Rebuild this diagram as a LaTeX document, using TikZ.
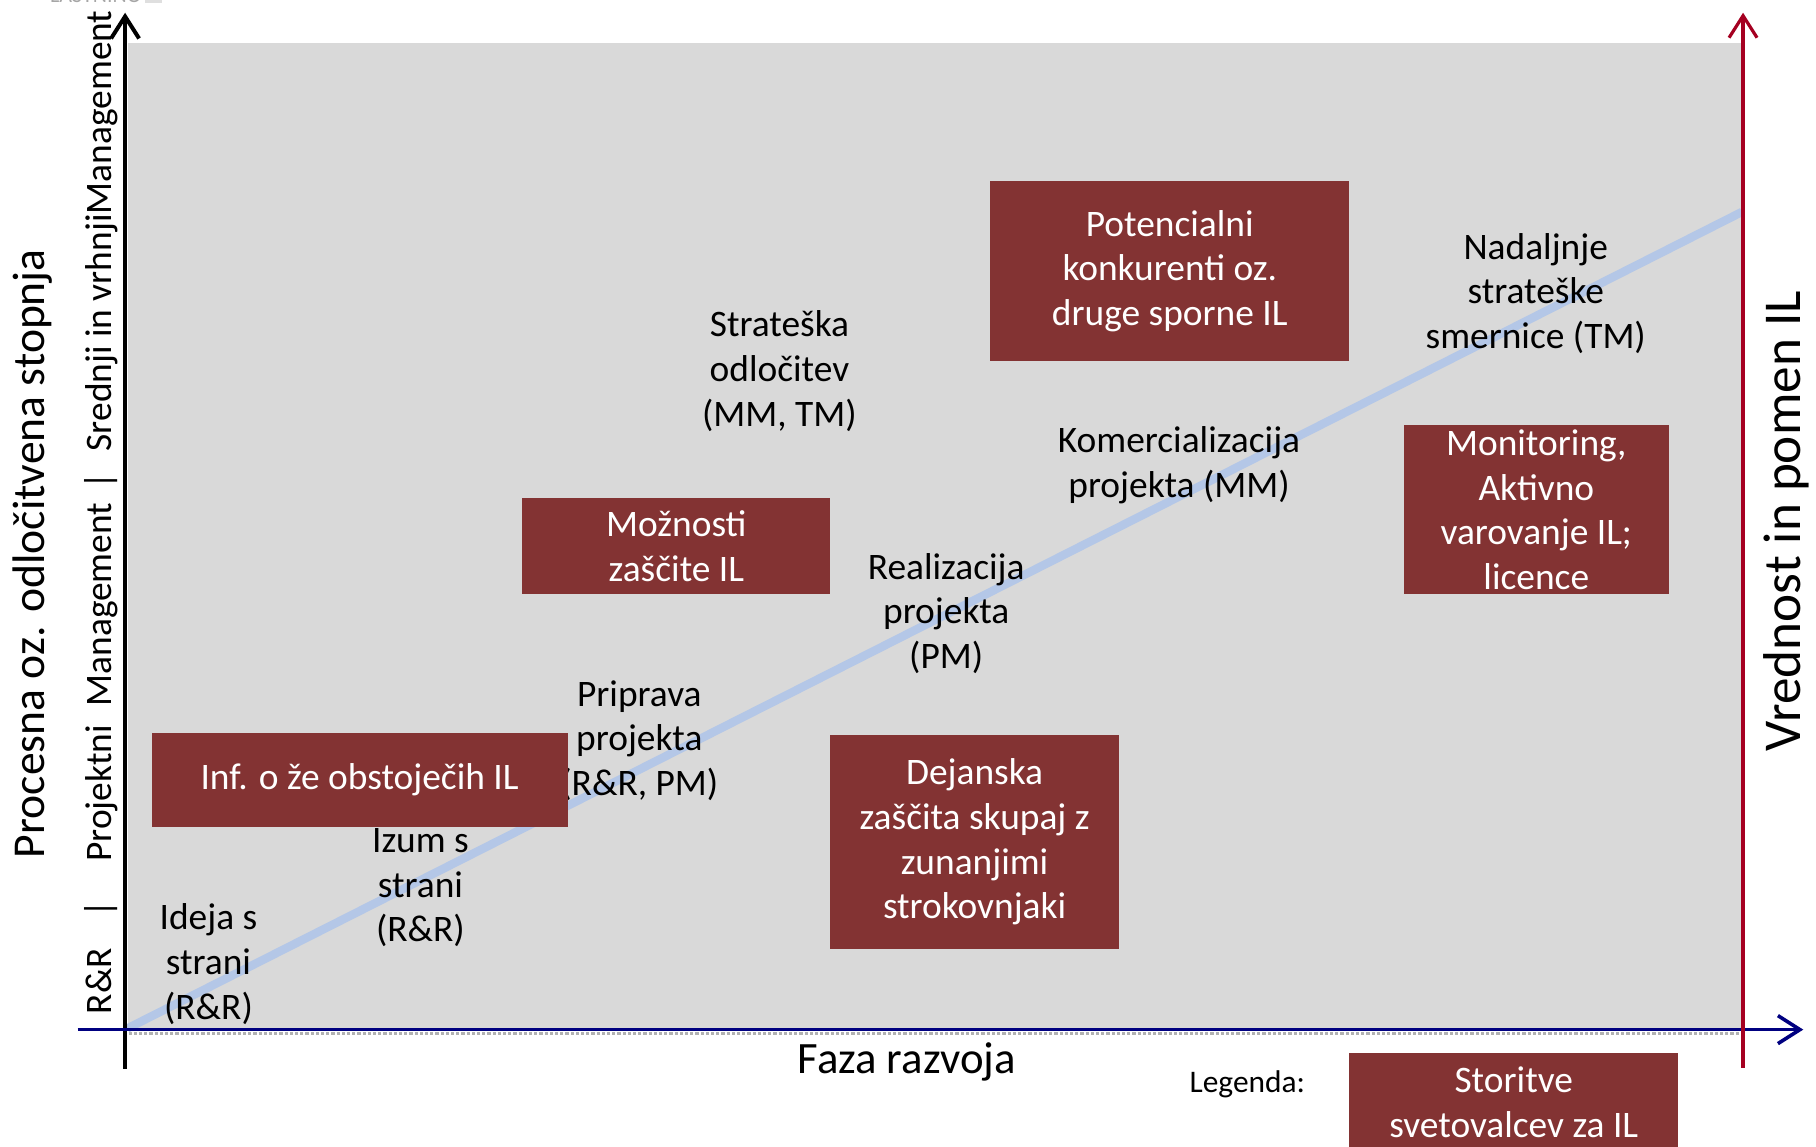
\documentclass[tikz,border=0pt]{standalone}
\usepackage{fontspec}
\setmainfont{Carlito}
\usetikzlibrary{arrows.meta}
\definecolor{boxred}{RGB}{131,51,51}
\definecolor{bggray}{RGB}{217,217,217}
\definecolor{axisblue}{RGB}{0,0,128}
\definecolor{axisred}{RGB}{165,0,33}
\definecolor{trendblue}{RGB}{180,199,231}
\tikzset{
  ilbox/.style={fill=boxred, text=white, align=center, inner sep=0pt, font=\fontsize{18.7}{22.3}\selectfont},
  lbl/.style={align=center, inner sep=0pt, font=\fontsize{18.7}{22.3}\selectfont},
  sidelbl/.style={rotate=90, inner sep=0pt, anchor=base, font=\fontsize{18.7}{22.3}\selectfont},
  openhead/.style={-{Straight Barb[length=11pt,width=14pt]}},
}
\begin{document}
\begin{tikzpicture}[x=0.579pt,y=-0.579pt]
\useasboundingbox (0,0) rectangle (1568,990);
\clip (0,0) rectangle (1568,990);

% background
\fill[bggray] (110.7,37) rectangle (1504,889);
\draw[gray!60, line width=1.6pt, densely dotted] (111,892.5) -- (1504,892.5);

% clipped remnant at the top
\node[anchor=base west, inner sep=0pt, text=gray!70, font=\fontsize{11}{13}\selectfont] (remnant) at (43,2.5) {LASTNINO};
\fill[gray!25] (125,0) rectangle (140,3);

% coordinates
\coordinate (trendstart) at (110,888);
\coordinate (trendend) at (1504,183);
\coordinate (yaxisbot) at (108,923);
\coordinate (yaxistop) at (108,11);
\coordinate (xaxisleft) at (67,889);
\coordinate (xaxisright) at (1557,889);
\coordinate (raxisbot) at (1505,922);
\coordinate (raxistop) at (1505,11);

% trend line
\draw[trendblue, line width=4.2pt] (trendstart) -- (trendend);

% plain labels
\node[lbl] (strat) at (673,320.5) {Strateška\\odločitev\\(MM, TM)};
\node[lbl] (nadalj) at (1326,253.5) {Nadaljnje\\strateške\\smernice (TM)};
\node[lbl] (komerc) at (1018,401.5) {Komercializacija\\projekta (MM)};
\node[lbl] (realiz) at (817,529.5) {Realizacija\\projekta\\(PM)};
\node[lbl] (pripr) at (552,639.5) {Priprava\\projekta\\(R\&R, PM)};
\node[lbl] (izum) at (363,766.5) {Izum s\\strani\\(R\&R)};
\node[lbl] (ideja) at (180,832.5) {Ideja s\\strani\\(R\&R)};

% boxes
\node[ilbox, minimum width=207.9pt, minimum height=46.9pt] (inf) at (310.5,673.5) {Inf. o že obstoječih IL};
\node[ilbox, minimum width=154.0pt, minimum height=48.1pt] (mozn) at (584,471.5) {Možnosti\\zaščite IL};
\node[ilbox, minimum width=179.5pt, minimum height=90.3pt] (poten) at (1010,234) {Potencialni\\konkurenti oz.\\druge sporne IL};
\node[ilbox, minimum width=144.2pt, minimum height=106.5pt] (dejan) at (841.5,727) {Dejanska\\zaščita skupaj z\\zunanjimi\\strokovnjaki};
\node[ilbox, minimum width=132.6pt, minimum height=84.5pt] (monit) at (1326.5,440) {Monitoring,\\Aktivno\\varovanje IL;\\licence};
\node[ilbox, minimum width=164.4pt, minimum height=49.2pt] (legbox) at (1307,951.5) {Storitve\\svetovalcev za IL};

% axes
\draw[black, line width=2pt, openhead] (yaxisbot) -- (yaxistop);
\draw[axisblue, line width=1.8pt, openhead] (xaxisleft) -- (xaxisright);
\draw[axisred, line width=1.6pt, openhead] (raxisbot) -- (raxistop);

% axis titles
\node[inner sep=0pt, font=\fontsize{22.4}{26}\selectfont] (faza) at (783,917) {Faza razvoja};
\node[inner sep=0pt, font=\fontsize{15.7}{19}\selectfont] (legenda) at (1077,936) {Legenda:};
\node[rotate=90, anchor=base, inner sep=0pt, font=\fontsize{22.8}{27}\selectfont] (procesna) at (38,478) {Procesna oz. odločitvena stopnja};
\node[rotate=90, anchor=base, inner sep=0pt, font=\fontsize{26.6}{31}\selectfont] (vrednost) at (1555,450) {Vrednost in pomen IL};

% side scale labels
\node[sidelbl] (srr) at (96,847) {R\&R};
\node[sidelbl] (sbar1) at (96,785) {|};
\node[sidelbl] (sproj) at (96,685) {Projektni};
\node[sidelbl] (smgmt) at (96,522) {Management};
\node[sidelbl] (sbar2) at (96,415) {|};
\node[sidelbl, anchor=base west] (ssred) at (96,390) {Srednji in vrhnjiManagement};
\end{tikzpicture}
\end{document}
